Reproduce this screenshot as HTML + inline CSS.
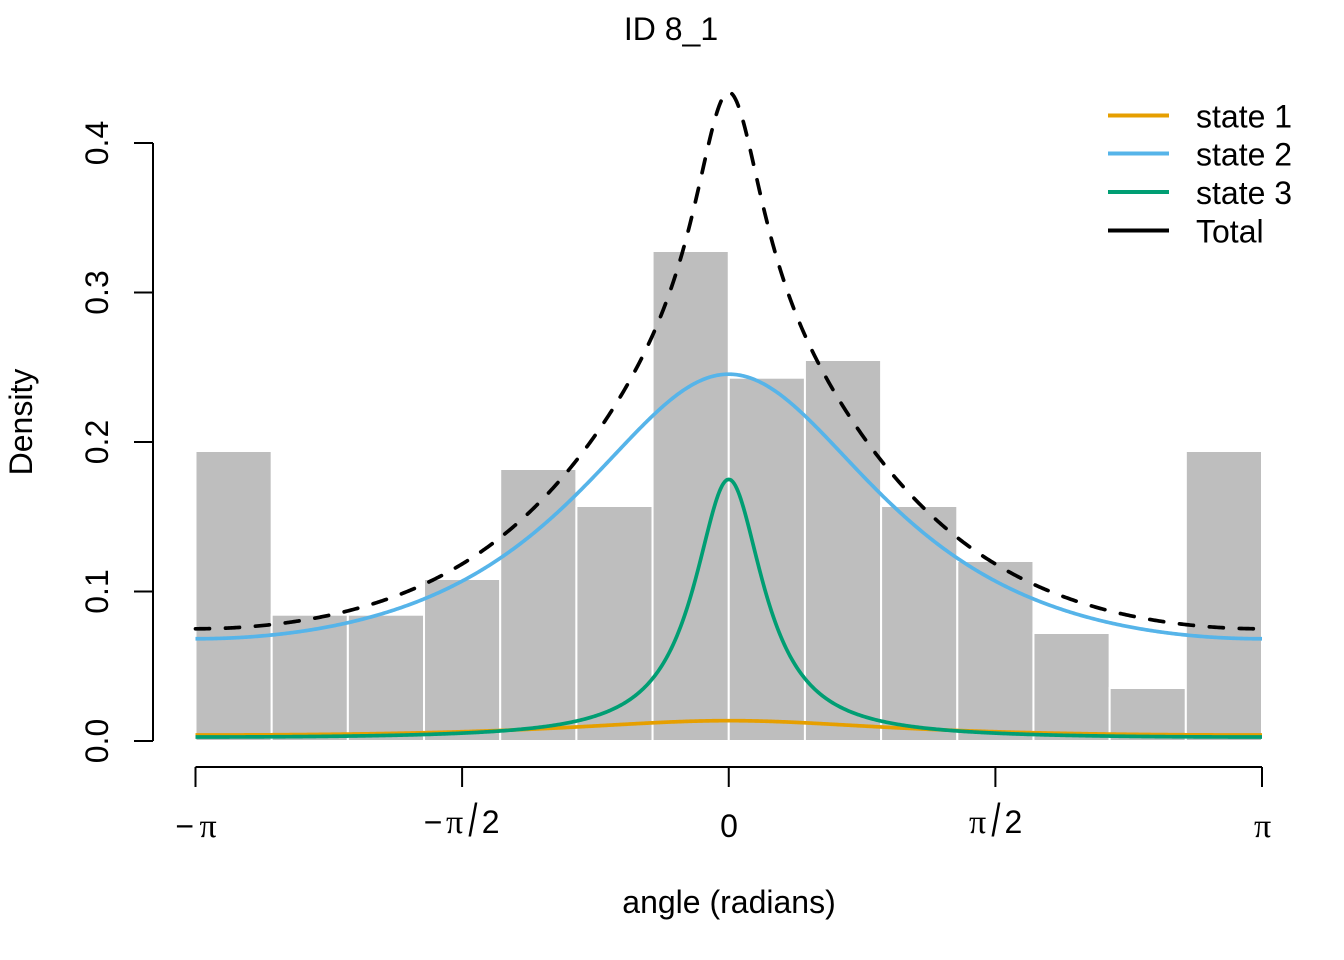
<!DOCTYPE html>
<html><head><meta charset="utf-8">
<style>
html,body{margin:0;padding:0;background:#fff;}
svg{display:block;}
text{font-family:"Liberation Sans",Arial,sans-serif;font-size:32px;fill:#000;}
.s{font-family:"Liberation Serif","Times New Roman",serif;font-size:34px;}
</style></head><body>
<svg width="1344" height="960" viewBox="0 0 1344 960" xmlns="http://www.w3.org/2000/svg">
<rect width="1344" height="960" fill="#fff"/>
<!-- histogram bars -->
<g fill="#BEBEBE" stroke="#FFFFFF" stroke-width="2">
<rect x="195.5" y="451" width="76.18" height="290"/>
<rect x="271.68" y="614.7" width="76.18" height="126.3"/>
<rect x="347.86" y="614.7" width="76.18" height="126.3"/>
<rect x="424.04" y="579" width="76.17" height="162"/>
<rect x="500.21" y="469" width="76.18" height="272"/>
<rect x="576.39" y="506" width="76.18" height="235"/>
<rect x="652.57" y="251" width="76.18" height="490"/>
<rect x="728.75" y="377.7" width="76.18" height="363.3"/>
<rect x="804.93" y="360" width="76.18" height="381"/>
<rect x="881.11" y="506" width="76.18" height="235"/>
<rect x="957.29" y="561" width="76.17" height="180"/>
<rect x="1033.46" y="633" width="76.18" height="108"/>
<rect x="1109.64" y="688" width="76.18" height="53"/>
<rect x="1185.82" y="451" width="76.18" height="290"/>
</g>
<!-- curves -->
<path id="c1" fill="none" stroke="#E69F00" stroke-width="3.7" stroke-linejoin="round" d=""/>
<path id="c2" fill="none" stroke="#56B4E9" stroke-width="3.7" stroke-linejoin="round" d=""/>
<path id="c3" fill="none" stroke="#009E73" stroke-width="3.7" stroke-linejoin="round" d=""/>
<path id="ct" fill="none" stroke="#000000" stroke-width="3.7" stroke-linejoin="round" stroke-linecap="round" stroke-dasharray="14 16" d=""/>
<!-- axes -->
<g stroke="#000" stroke-width="2" fill="none">
<line x1="153" y1="741" x2="153" y2="143"/>
<line x1="153" y1="741" x2="134" y2="741"/>
<line x1="153" y1="591.5" x2="134" y2="591.5"/>
<line x1="153" y1="442" x2="134" y2="442"/>
<line x1="153" y1="292.5" x2="134" y2="292.5"/>
<line x1="153" y1="143" x2="134" y2="143"/>
<line x1="195.5" y1="767" x2="1262" y2="767"/>
<line x1="195.5" y1="767" x2="195.5" y2="787"/>
<line x1="462.1" y1="767" x2="462.1" y2="787"/>
<line x1="728.75" y1="767" x2="728.75" y2="787"/>
<line x1="995.4" y1="767" x2="995.4" y2="787"/>
<line x1="1262" y1="767" x2="1262" y2="787"/>
</g>
<!-- y tick labels -->
<text transform="translate(108,741) rotate(-90)" text-anchor="middle">0.0</text>
<text transform="translate(108,591.5) rotate(-90)" text-anchor="middle">0.1</text>
<text transform="translate(108,442) rotate(-90)" text-anchor="middle">0.2</text>
<text transform="translate(108,292.5) rotate(-90)" text-anchor="middle">0.3</text>
<text transform="translate(108,143) rotate(-90)" text-anchor="middle">0.4</text>
<!-- x tick labels -->
<text x="175.4" y="837">−</text><text class="s" x="199.5" y="837">π</text>
<text x="423.7" y="833">−</text><text class="s" x="446" y="833">π</text><text transform="translate(468.5,836) scale(1,1.45)">/</text><text x="481.7" y="833">2</text>
<text x="729" y="837" text-anchor="middle">0</text>
<text class="s" x="969" y="833">π</text><text transform="translate(991.5,836) scale(1,1.45)">/</text><text x="1004.5" y="833">2</text>
<text class="s" x="1254" y="837">π</text>
<!-- axis titles -->
<text x="729" y="913" text-anchor="middle">angle (radians)</text>
<text transform="translate(32,422) rotate(-90)" text-anchor="middle">Density</text>
<text x="671" y="40" text-anchor="middle">ID 8_1</text>
<!-- legend -->
<g stroke-width="4">
<line x1="1108" y1="115.5" x2="1169" y2="115.5" stroke="#E69F00"/>
<line x1="1108" y1="153.5" x2="1169" y2="153.5" stroke="#56B4E9"/>
<line x1="1108" y1="192" x2="1169" y2="192" stroke="#009E73"/>
<line x1="1108" y1="230.5" x2="1169" y2="230.5" stroke="#000000"/>
</g>
<text x="1196" y="127.5">state 1</text>
<text x="1196" y="165.5">state 2</text>
<text x="1196" y="204">state 3</text>
<text x="1196" y="242.5">Total</text>
</svg>
<script>
(function(){
function wc(t,w,r){return w*(1-r*r)/(2*Math.PI*(1+r*r-2*r*Math.cos(t)));}
var X=function(t){return 728.75+t*169.74;}, Y=function(d){return 741-d*1495;};
var f1=function(t){return wc(t,0.0464,0.296);};
var f2=function(t){return wc(t,0.8138,0.309);};
var f3=function(t){return wc(t,0.1359,0.78);};
var ft=function(t){return f1(t)+f2(t)+f3(t);};
function path(f){var s='',n=800;for(var i=0;i<=n;i++){var t=-Math.PI+i*2*Math.PI/n;s+=(i?'L':'M')+X(t).toFixed(2)+' '+Y(f(t)).toFixed(2);}return s;}
document.getElementById('c1').setAttribute('d',path(f1));
document.getElementById('c2').setAttribute('d',path(f2));
document.getElementById('c3').setAttribute('d',path(f3));
document.getElementById('ct').setAttribute('d',path(ft));
})();
</script>
</body></html>
